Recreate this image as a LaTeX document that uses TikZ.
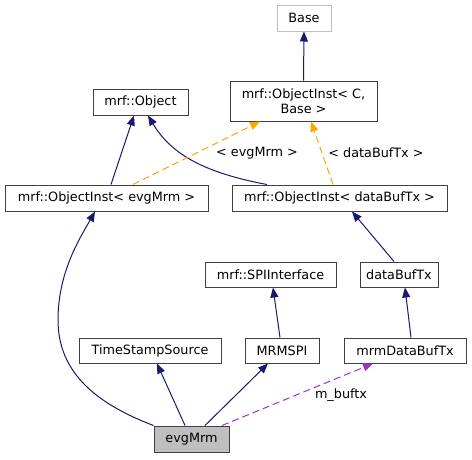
\documentclass[tikz,border=0pt]{standalone}
\usepackage{fontspec}
\setmainfont{DejaVu Sans}
\usetikzlibrary{arrows.meta}
\definecolor{edgeblue}{HTML}{191970}
\definecolor{edgeorange}{HTML}{FFA500}
\definecolor{edgepurple}{HTML}{9A32CD}
\definecolor{boxborder}{HTML}{404040}
\definecolor{lightborder}{HTML}{BFBFBF}
\definecolor{selfill}{HTML}{BFBFBF}
\tikzset{
  cls/.style={draw=boxborder, line width=1pt, fill=white, inner sep=0pt, align=center,
    font=\fontsize{12.8}{15}\selectfont, minimum height=25pt},
  undoc/.style={cls, draw=lightborder},
  lbl/.style={inner sep=0pt, font=\fontsize{12.8}{15}\selectfont},
  inh/.style={draw=edgeblue, line width=1pt, -{Triangle[length=10pt,width=8pt]}},
  tmpl/.style={draw=edgeorange, line width=1pt, dash pattern=on 7pt off 4pt,
    -{Triangle[length=10pt,width=8pt,fill=edgeorange]}},
  usage/.style={draw=edgepurple, line width=1pt, dash pattern=on 7pt off 4pt,
    -{Triangle[length=10pt,width=8pt,fill=edgepurple]}},
}
\begin{document}
\begin{tikzpicture}[x=1pt,y=-1pt]
\useasboundingbox (0,0) rectangle (472,459);
% nodes
\node[undoc, minimum width=54pt, minimum height=26pt] (base) at (304,18) {Base};
\node[cls, minimum width=147pt, minimum height=40pt] (oic) at (303.5,101) {mrf::ObjectInst\textless{} C,\\Base \textgreater{}};
\node[cls, minimum width=95pt, minimum height=26pt] (obj) at (140.5,102) {mrf::Object};
\node[cls, minimum width=203pt, minimum height=26pt] (oie) at (106.5,198) {mrf::ObjectInst\textless{} evgMrm \textgreater{}};
\node[cls, minimum width=215pt, minimum height=26pt] (oid) at (339.5,198) {mrf::ObjectInst\textless{} dataBufTx \textgreater{}};
\node[cls, minimum width=131pt] (spi) at (270.5,274.5) {mrf::SPIInterface};
\node[cls, minimum width=78pt] (dbt) at (399,274.5) {dataBufTx};
\node[cls, minimum width=142pt] (tss) at (150,350.5) {TimeStampSource};
\node[cls, minimum width=74pt] (mrmspi) at (282,350.5) {MRMSPI};
\node[cls, minimum width=122pt] (mdbt) at (405,350.5) {mrmDataBufTx};
\node[cls, fill=selfill, minimum width=75pt, minimum height=26pt] (evg) at (191.5,439) {evgMrm};
% edges
\draw[inh] (oic.north) -- (base.south);
\draw[inh] ([xshift=4.5pt]oie.north) -- ([xshift=-6.5pt]obj.south);
\draw[inh] ([xshift=-72.5pt]oid.north) .. controls (200,172) and (170,152) .. ([xshift=7.5pt]obj.south);
\draw[tmpl] ([xshift=26.5pt]oie.north) -- ([xshift=-43.5pt]oic.south);
\draw[tmpl] ([xshift=-6.5pt]oid.north) -- ([xshift=7.5pt]oic.south);
\node[lbl] (l1) at (257,153) {\textless{} evgMrm \textgreater{}};
\node[lbl] (l2) at (376,153) {\textless{} dataBufTx \textgreater{}};
\draw[inh] (evg.north west) .. controls (100,405) and (58,375) .. (58,320)
  .. controls (58,272) and (80,238) .. ([xshift=-11.5pt]oie.south);
\draw[inh] ([xshift=-5pt]dbt.north) -- ([xshift=12.5pt]oid.south);
\draw[inh] ([xshift=-2pt]mrmspi.north) -- ([xshift=2.5pt]spi.south);
\draw[inh] ([xshift=6pt]mdbt.north) -- ([xshift=6pt]dbt.south);
\draw[inh] ([xshift=-6.5pt]evg.north) -- ([xshift=7pt]tss.south);
\draw[inh] ([xshift=13.5pt]evg.north) -- ([xshift=-14pt]mrmspi.south);
\draw[usage] ([xshift=30.5pt]evg.north) -- ([xshift=-32pt]mdbt.south);
\node[lbl] (l3) at (341,395) {m\_buftx};
\end{tikzpicture}
\end{document}
